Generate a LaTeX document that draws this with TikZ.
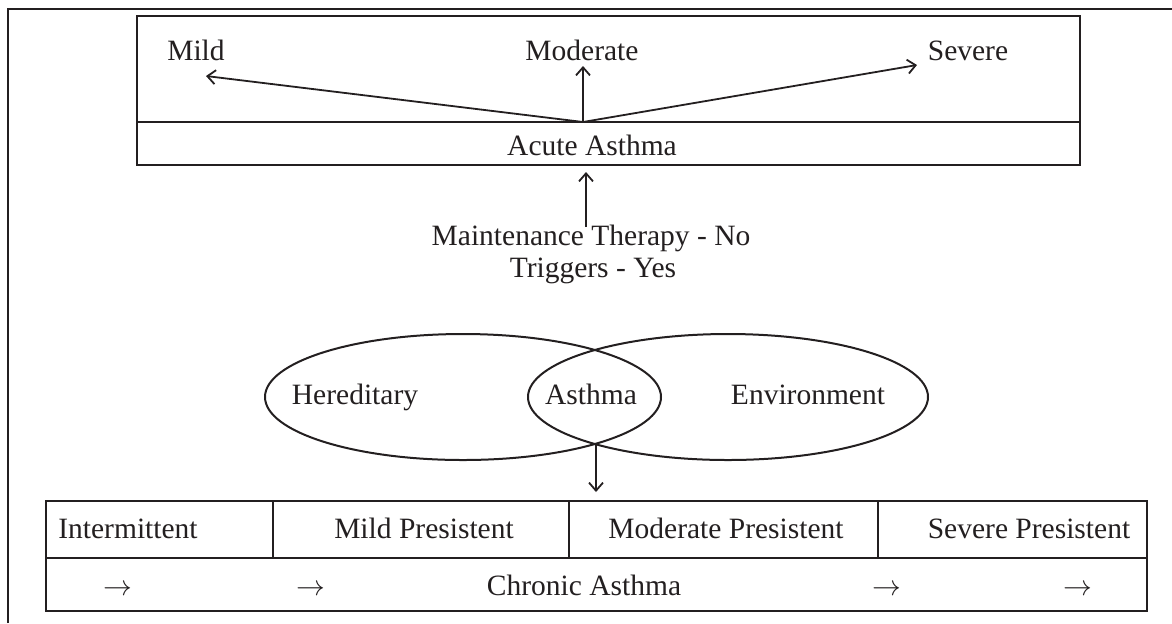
\documentclass[tikz,border=0pt]{standalone}
\usepackage{fontspec}
\setmainfont{Liberation Serif}
\usetikzlibrary{arrows.meta,shapes.geometric}
\definecolor{ink}{HTML}{231F20}
\begin{document}
\begin{tikzpicture}[x=0.5pt,y=-0.5pt, line width=1pt, draw=ink,
  every node/.style={font=\fontsize{14.75}{16}\selectfont, text=ink, inner sep=0pt},
  arr/.style={-{Straight Barb[length=4pt,width=7pt]}, line width=0.9pt},
  lbl/.style={anchor=base},
  boxnode/.style={draw, minimum width=#1, rectangle}]
\useasboundingbox (0,0) rectangle (1172,623);
% outer frame (partial)
\draw (8,623) -- (8,9) -- (1172,9);
% top box
\node[boxnode=471.5pt, minimum height=53pt] (upper) at (608.5,69) {};
\node[boxnode=471.5pt, minimum height=21.5pt] (acute) at (608.5,143.5) {};
\node[lbl] (acutetxt) at (592,155) {Acute\ Asthma};
\node[lbl] (mild) at (196,60) {Mild};
\node[lbl] (moderate) at (582,60) {Moderate};
\node[lbl] (severe) at (968,60) {Severe};
\coordinate (apex) at (583,122);
\coordinate (mildtip) at (206,76);
\coordinate (modtip) at (583,66);
\coordinate (sevtip) at (917,65);
\draw[arr] (apex) -- (mildtip);
\draw[arr] (apex) -- (modtip);
\draw[arr] (apex) -- (sevtip);
% maintenance
\node[lbl] (maint) at (591,245) {Maintenance Therapy - No};
\node[lbl] (trig) at (593,277) {Triggers - Yes};
\coordinate (mtop) at (586,227);
\coordinate (acutein) at (586,172);
\draw[arr] (mtop) -- (acutein);
% ellipses
\node[draw, ellipse, minimum width=198pt, minimum height=63pt] (hered) at (463,397) {};
\node[draw, ellipse, minimum width=200pt, minimum height=63pt] (env) at (728,397) {};
\node[lbl] (heredtxt) at (355,404) {Hereditary};
\node[lbl] (asthma) at (591,404) {Asthma};
\node[lbl] (envtxt) at (808,404) {Environment};
\coordinate (meet) at (596,444);
\coordinate (tabin) at (596,492);
\draw[arr] (meet) -- (tabin);
% table
\node[boxnode=550.5pt, minimum height=28.5pt] (row1) at (596.5,529.5) {};
\node[boxnode=550.5pt, minimum height=26.5pt] (row2) at (596.5,584.5) {};
\draw (273,501) -- (273,558);
\draw (569,501) -- (569,558);
\draw (878,501) -- (878,558);
\node[lbl] (inter) at (128,538) {Intermittent};
\node[lbl] (mildp) at (424,538) {Mild Presistent};
\node[lbl] (modp) at (726,538) {Moderate\ Presistent};
\node[lbl] (sevp) at (1029,538) {Severe\ Presistent};
\node[lbl] (chronic) at (584,595) {Chronic\ Asthma};
\node[lbl] (a1) at (118,595) {$\rightarrow$};
\node[lbl] (a2) at (311,595) {$\rightarrow$};
\node[lbl] (a3) at (887,595) {$\rightarrow$};
\node[lbl] (a4) at (1078,595) {$\rightarrow$};
\end{tikzpicture}
\end{document}
